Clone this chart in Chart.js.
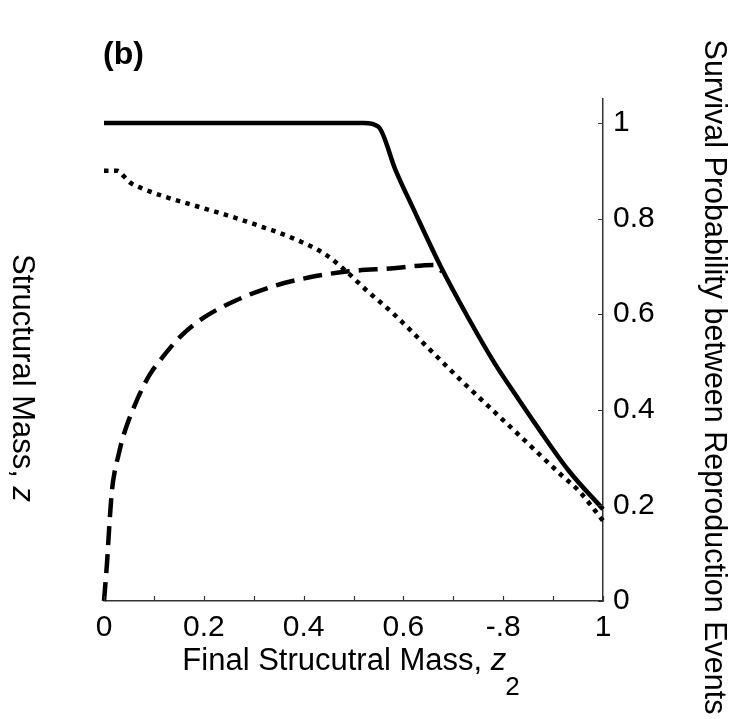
<!DOCTYPE html>
<html>
<head>
<meta charset="utf-8">
<script src="https://cdn.jsdelivr.net/npm/chart.js@4.4.1/dist/chart.umd.min.js"></script>
<style>
  html, body { margin: 0; padding: 0; background: #fff; }
  #wrap { width: 729px; height: 719px; }
</style>
</head>
<body>
<div id="wrap"><canvas id="chart" width="729" height="719"></canvas></div>
<script>
// values
const solidX = [0, 0.521, 0.550, 0.584, 0.621, 0.675, 0.729, 0.783, 0.823, 0.864, 0.931, 1.0];
const solidY = [1, 1, 0.992, 0.902, 0.818, 0.699, 0.594, 0.497, 0.434, 0.371, 0.273, 0.192];

const dottedX = [0, 0.027, 0.040, 0.054, 0.074, 0.115, 0.175, 0.243, 0.310, 0.378, 0.445, 0.486, 0.526, 0.580, 0.648, 0.715, 0.783, 0.850, 0.918, 0.951, 1.0];
const dottedY = [0.9, 0.9, 0.888, 0.874, 0.864, 0.848, 0.829, 0.808, 0.785, 0.759, 0.724, 0.689, 0.650, 0.601, 0.531, 0.462, 0.395, 0.329, 0.262, 0.231, 0.168];

const dashedX = [0, 0.006, 0.011, 0.016, 0.022, 0.029, 0.036, 0.046, 0.059, 0.076, 0.092, 0.119, 0.153, 0.196, 0.263, 0.344, 0.412, 0.486, 0.580, 0.661, 0.678];
const dashedY = [0, 0.079, 0.163, 0.232, 0.274, 0.305, 0.335, 0.368, 0.403, 0.443, 0.474, 0.512, 0.553, 0.590, 0.628, 0.660, 0.677, 0.689, 0.696, 0.703, 0.689];

const xTicks = [0, 0.1, 0.2, 0.3, 0.4, 0.5, 0.6, 0.7, 0.8, 0.9, 1];
const xTickLabels = ['0', '', '0.2', '', '0.4', '', '0.6', '', '-.8', '', '1'];
const yTicks = [0, 0.2, 0.4, 0.6, 0.8, 1];
const yTickLabels = ['0', '0.2', '0.4', '0.6', '0.8', '1'];

const FONT = '"Liberation Sans", Arial, Helvetica, sans-serif';
const axisColor = '#333';

function toPoints(xs, ys) {
    return xs.map((x, i) => ({ x: x, y: ys[i] }));
}

function lineSet(label, xs, ys, dash) {
    return {
        label: label,
        data: toPoints(xs, ys),
        borderColor: '#000',
        borderWidth: 4.5,
        borderDash: dash,
        borderCapStyle: 'butt',
        pointRadius: 0,
        cubicInterpolationMode: 'monotone',
        fill: false,
        clip: 8
    };
}

// inward tick marks plus the free text around the axes
const annotate = {
    id: 'annotate',
    afterDraw(chart) {
        const ctx = chart.ctx;
        const xs = chart.scales.x, ys = chart.scales.y;
        const area = chart.chartArea;

        ctx.save();
        ctx.strokeStyle = axisColor;
        ctx.lineWidth = 1.2;
        ctx.beginPath();
        xTicks.forEach(v => {
            const px = Math.round(xs.getPixelForValue(v)) + 0.5;
            ctx.moveTo(px, area.bottom);
            ctx.lineTo(px, area.bottom - 5);
        });
        yTicks.forEach(v => {
            const py = Math.round(ys.getPixelForValue(v)) + 0.5;
            ctx.moveTo(area.right, py);
            ctx.lineTo(area.right - 5, py);
        });
        ctx.stroke();

        ctx.fillStyle = '#000';

        // panel letter
        ctx.font = 'bold 32px ' + FONT;
        ctx.textAlign = 'left';
        ctx.textBaseline = 'middle';
        ctx.fillText('(b)', 103, 55);

        // x title with italic z and subscript 2
        const main = 'Final Strucutral Mass, ';
        ctx.font = '31px ' + FONT;
        const wMain = ctx.measureText(main).width;
        ctx.font = 'italic 31px ' + FONT;
        const wZ = ctx.measureText('z').width;
        ctx.font = '26px ' + FONT;
        const wSub = ctx.measureText('2').width;
        const centre = (area.left + area.right) / 2;
        let x0 = centre - 2 - (wMain + wZ + wSub) / 2;
        ctx.textBaseline = 'alphabetic';
        ctx.font = '31px ' + FONT;
        ctx.fillText(main, x0, 670);
        ctx.font = 'italic 31px ' + FONT;
        ctx.fillText('z', x0 + wMain, 670);
        ctx.font = '26px ' + FONT;
        ctx.fillText('2', x0 + wMain + wZ - 1, 695);

        // left label, reads top to bottom
        ctx.save();
        ctx.translate(13, 378);
        ctx.rotate(Math.PI / 2);
        ctx.font = '31px ' + FONT;
        const wLeft = ctx.measureText('Structural Mass, ').width;
        ctx.font = 'italic 31px ' + FONT;
        const wLz = ctx.measureText('z').width;
        const lx = -(wLeft + wLz) / 2;
        ctx.textAlign = 'left';
        ctx.font = '31px ' + FONT;
        ctx.fillText('Structural Mass, ', lx, 0);
        ctx.font = 'italic 31px ' + FONT;
        ctx.fillText('z', lx + wLeft, 0);
        ctx.restore();

        // right label
        ctx.save();
        ctx.translate(705, 377);
        ctx.rotate(Math.PI / 2);
        ctx.textAlign = 'center';
        ctx.font = '30.5px ' + FONT;
        ctx.fillText('Survival Probability between Reproduction Events', 0, 0);
        ctx.restore();

        ctx.restore();
    }
};

const ctx = document.getElementById('chart').getContext('2d');
const chart = new Chart(ctx, {
    type: 'line',
    data: {
        datasets: [
            lineSet('solid', solidX, solidY, []),
            lineSet('dotted', dottedX, dottedY, [4.5, 5.5]),
            lineSet('dashed', dashedX, dashedY, [19, 9])
        ]
    },
    options: {
        responsive: false,
        animation: false,
        devicePixelRatio: 1,
        layout: { padding: { left: 104, top: 99, right: 0, bottom: 0 } },
        plugins: {
            legend: { display: false },
            tooltip: { enabled: false }
        },
        scales: {
            x: {
                type: 'linear',
                position: 'bottom',
                min: 0,
                max: 1,
                afterBuildTicks: s => { s.ticks = xTicks.map(v => ({ value: v })); },
                afterFit: s => { s.height = 118; },
                grid: { display: true, drawOnChartArea: false, drawTicks: false },
                border: { display: true, color: axisColor, width: 1.5 },
                ticks: {
                    autoSkip: false,
                    maxRotation: 0,
                    padding: 9,
                    color: '#000',
                    font: { family: FONT, size: 30 },
                    callback: (v, i) => xTickLabels[i]
                }
            },
            y: {
                type: 'linear',
                position: 'right',
                min: 0,
                max: 1.05,
                afterBuildTicks: s => { s.ticks = yTicks.map(v => ({ value: v })); },
                afterFit: s => { s.width = 126; },
                grid: { display: true, drawOnChartArea: false, drawTicks: false },
                border: { display: true, color: axisColor, width: 1.5 },
                ticks: {
                    padding: 10,
                    color: '#000',
                    font: { family: FONT, size: 30 },
                    callback: (v, i) => yTickLabels[i]
                }
            }
        }
    },
    plugins: [annotate]
});
</script>
</body>
</html>
